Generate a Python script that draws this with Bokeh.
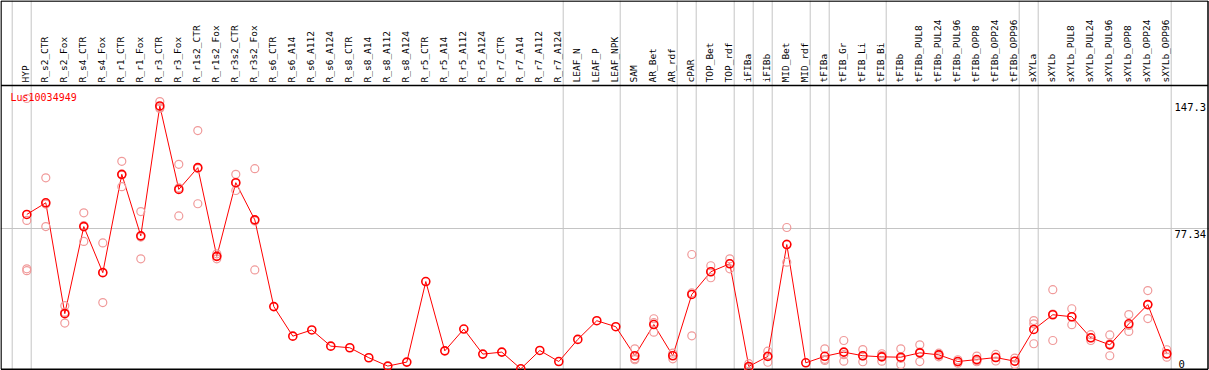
import math
from bokeh.plotting import figure
from bokeh.models import Range1d, Span, ColumnDataSource
from bokeh.core.properties import value
from bokeh.embed import file_html
from bokeh.resources import INLINE

nan = float("nan")

gene = "Lus10034949"

categories = [
    "HYP", "R_s2_CTR", "R_s2_Fox", "R_s4_CTR", "R_s4_Fox", "R_r1_CTR", "R_r1_Fox",
    "R_r3_CTR", "R_r3_Fox", "R_r1s2_CTR", "R_r1s2_Fox", "R_r3s2_CTR", "R_r3s2_Fox",
    "R_s6_CTR", "R_s6_A14", "R_s6_A112", "R_s6_A124", "R_s8_CTR", "R_s8_A14",
    "R_s8_A112", "R_s8_A124", "R_r5_CTR", "R_r5_A14", "R_r5_A112", "R_r5_A124",
    "R_r7_CTR", "R_r7_A14", "R_r7_A112", "R_r7_A124", "LEAF_N", "LEAF_P", "LEAF_NPK",
    "SAM", "AR_Bet", "AR_rdf", "cPAR", "TOP_Bet", "TOP_rdf", "iFIBa", "iFIBb",
    "MID_Bet", "MID_rdf", "tFIBa", "tFIB_Gr", "tFIB_Li", "tFIB_Bi", "tFIBb",
    "tFIBb_PUL8", "tFIBb_PUL24", "tFIBb_PUL96", "tFIBb_OPP8", "tFIBb_OPP24",
    "tFIBb_OPP96", "sXYLa", "sXYLb", "sXYLb_PUL8", "sXYLb_PUL24", "sXYLb_PUL96",
    "sXYLb_OPP8", "sXYLb_OPP24", "sXYLb_OPP96",
]

# mean expression (dark markers, joined by the line)
means = [
    85.1, 91.5, 30.4, 78.4, 53.0, 107.2, 73.3, 144.9, 98.9, 110.9, 62.0, 102.6, 82.1,
    34.3, 18.0, 21.4, 12.5, 11.6, 6.1, 1.5, 3.7, 48.1, 9.9, 21.9, 8.1,
    9.2, 0.0, 10.1, 4.0, 16.2, 26.5, 23.2,
    7.2, 24.4, 7.2, 41.0, 53.5, 57.9, 1.3, 6.8, 68.5, 3.3, 6.9, 9.2, 7.2, 6.6, 6.4,
    8.8, 7.7, 4.0, 5.1, 6.2, 4.2, 21.7, 29.8, 28.7, 17.1, 13.2, 24.8, 35.4, 8.3,
]

# individual replicates (pale markers)
rep_a = [
    149.0, 105.3, 34.8, 86.0, 69.4, 114.4, 86.7, 147.3, 112.7, 131.3, 63.4, 107.2, 110.3,
    nan, nan, nan, nan, nan, nan, nan, nan, nan, nan, nan, nan, nan, nan, nan, nan,
    nan, nan, nan,
    11.0, 27.6, 8.6, 63.0, 56.8, 60.6, 2.8, 9.7, 77.9, nan, 11.0, 15.6, 10.6, 8.3, 11.0,
    13.2, 8.6, 5.0, 7.0, 7.9, 5.9, 26.6, 43.6, 33.1, 18.8, 18.7, 29.9, 43.1, 10.5,
]
rep_b = [
    81.8, 90.8, 31.2, 79.0, 53.1, 106.8, 72.6, 144.0, 99.7, 110.4, 62.0, 102.3, 81.5,
    nan, nan, nan, nan, nan, nan, nan, nan, nan, nan, nan, nan, nan, nan, nan, nan,
    nan, nan, nan,
    5.6, 25.4, 7.4, 41.8, 53.5, 58.0, 0.6, 7.1, 68.8, nan, 5.2, 7.8, 7.1, 7.3, 5.8,
    9.2, 7.9, 4.0, 4.5, 6.4, 4.3, 24.8, 30.2, 28.7, 17.0, 13.8, 23.9, 35.4, 8.0,
]
rep_c = [
    55.1, 78.4, 25.2, 70.2, 36.5, 100.4, 60.6, 143.5, 84.3, 91.0, 60.6, 98.3, 54.5,
    nan, nan, nan, nan, nan, nan, nan, nan, nan, nan, nan, nan, nan, nan, nan, nan,
    nan, nan, nan,
    5.0, 20.2, 5.5, 18.2, 50.2, 55.1, 0.5, 3.6, 58.8, nan, 4.6, 4.2, 3.9, 4.2, 2.4,
    4.0, 6.6, 3.1, 3.9, 4.3, 2.4, 13.8, 15.6, 24.3, 15.6, 7.2, 20.6, 27.7, 6.4,
]
rep_d = [54.1] + [nan] * 60

# categories after which a grey separator is drawn
group_ends = [
    "HYP", "R_r7_A124", "LEAF_NPK", "AR_rdf", "cPAR", "TOP_rdf", "iFIBa", "iFIBb",
    "MID_rdf", "tFIBa", "tFIB_Bi", "tFIBb_OPP96", "sXYLa", "sXYLb_OPP96",
]

ytick_values = [0, 77.34, 147.3]
ytick_labels = ["0", "77.34", "147.3"]

# ---------------- layout (pixels) ----------------
W, H = 1209, 370
X0, DX = 26.3, 19.0        # pixel of first column, pixel step per column
Y0, K = 368.3, 1.814       # pixel row of value 0, pixels per unit
HEADER = 85.0              # pixel row of header rule


def ux(px):
    return (px - X0) / DX


def vy(py):
    return (Y0 - py) / K


p = figure(
    width=W, height=H,
    x_range=Range1d(ux(0), ux(W)), y_range=Range1d(vy(H), vy(0)),
    output_backend="svg", toolbar_location=None,
    x_axis_location=None, y_axis_location=None,
    min_border=0, min_border_left=0, min_border_right=0,
    min_border_top=0, min_border_bottom=0,
)
p.grid.visible = False
p.outline_line_color = None
p.background_fill_color = "white"
p.border_fill_color = "white"

idx = list(range(len(categories)))
sep_off = 4.4 / DX
sep_x = [-1 + sep_off] + [categories.index(c) + sep_off for c in group_ends]
p.segment(x0=sep_x, y0=[vy(H)] * len(sep_x), x1=sep_x, y1=[vy(0)] * len(sep_x),
          line_color="#c4c4c4", line_width=1)

grid_vals = [v for v in ytick_values if 0 < v < max(ytick_values)]
p.segment(x0=[ux(0)] * len(grid_vals), y0=grid_vals, x1=[ux(W)] * len(grid_vals),
          y1=grid_vals, line_color="#c4c4c4", line_width=1)

# frame: outer box and header rule
p.segment(x0=[ux(0.5), ux(0.5), ux(0.5), ux(1207.5), ux(0.5)],
          y0=[vy(0.5), vy(368.8), vy(0.5), vy(0.5), vy(HEADER)],
          x1=[ux(1207.5), ux(1207.5), ux(0.5), ux(1207.5), ux(1207.5)],
          y1=[vy(0.5), vy(368.8), vy(368.8), vy(368.8), vy(HEADER)],
          line_color="black", line_width=1.5)

src = ColumnDataSource(dict(x=idx, cat=categories, m=means, a=rep_a, b=rep_b,
                            c=rep_c, d=rep_d))

p.line("x", "m", source=src, line_color="#ff0000", line_width=1)
for col in ["a", "b", "c", "d"]:
    p.scatter("x", col, source=src, marker="circle", size=8, fill_color=None,
              line_color="#f09a9a", line_width=1.2)
p.scatter("x", "m", source=src, marker="circle", size=8, fill_color=None,
          line_color="#ff0000", line_width=1.6)

# header labels
p.text(x=[i - 1.0 / DX for i in idx], y=[vy(HEADER - 3)] * len(idx), text=categories,
       angle=math.pi / 2, text_align="left", text_baseline="middle",
       text_font=value("DejaVu Sans Mono"), text_font_size="9.5px",
       text_color="black")

# gene name
p.text(x=[ux(10)], y=[vy(97)], text=[gene], text_align="left",
       text_baseline="middle", text_font=value("DejaVu Sans Mono"),
       text_font_size="10px", text_color="#ff0000")

# value labels on the right
top_vals = [v for v in ytick_values if v > 0]
top_labs = [l for v, l in zip(ytick_values, ytick_labels) if v > 0]
p.text(x=[ux(1174)] * len(top_vals), y=top_vals, text=top_labs, text_align="left",
       text_baseline="top", y_offset=1, text_font=value("DejaVu Sans Mono"),
       text_font_size="10.5px", text_color="black")
zero_vals = [v for v in ytick_values if v == 0]
zero_labs = [l for v, l in zip(ytick_values, ytick_labels) if v == 0]
p.text(x=[ux(1178)] * len(zero_vals), y=zero_vals, text=zero_labs, text_align="left",
       text_baseline="bottom", y_offset=-1, text_font=value("DejaVu Sans Mono"),
       text_font_size="10.5px", text_color="black")

open("out.html", "w").write(file_html(p, INLINE))
